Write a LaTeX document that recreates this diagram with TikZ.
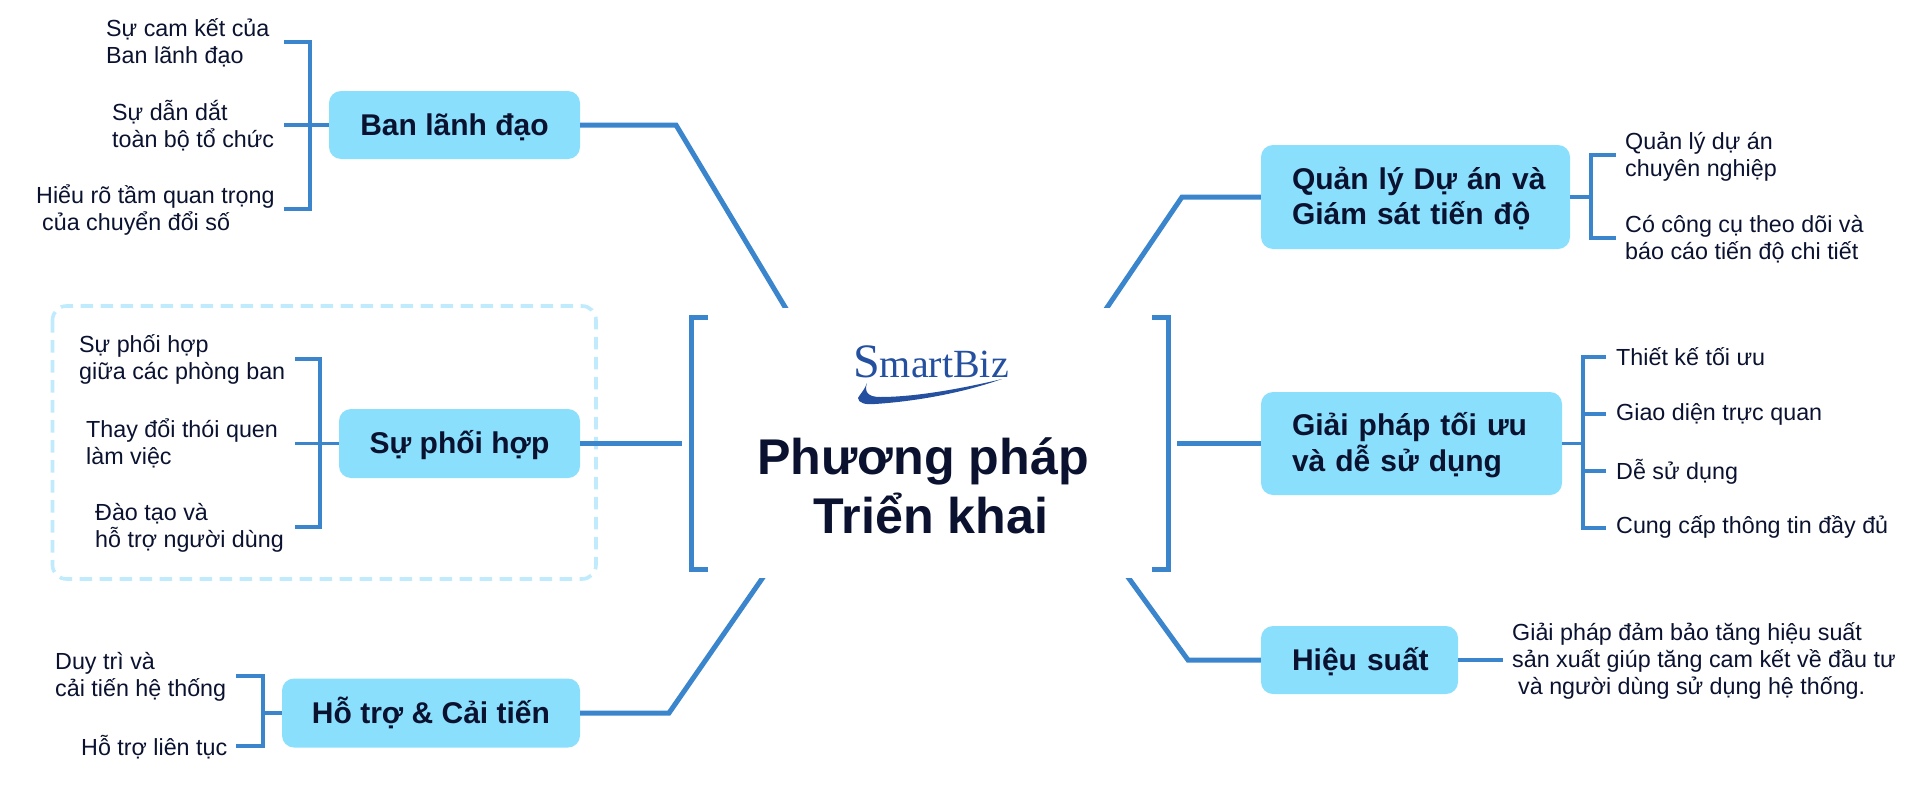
\documentclass[tikz,border=0pt]{standalone}
\usepackage{fontspec}
\setmainfont{Liberation Sans}
\newfontfamily\logofont{Liberation Serif}
\definecolor{boxblue}{HTML}{8ADFFC}
\definecolor{linkblue}{HTML}{3A85CC}
\definecolor{inkdark}{HTML}{0A1230}
\definecolor{dashblue}{HTML}{BFEBFD}
\definecolor{logoblue}{HTML}{24509F}
\newcommand{\topstrut}{\rule{0pt}{27pt}}
\newcommand{\botstrut}{\rule[-7pt]{0pt}{7pt}}
\newcommand{\ins}{\hspace*{31pt}}
\tikzset{
  topicbox/.style={fill=boxblue,rounded corners=12pt,inner sep=0pt,text=inkdark,
    font=\fontsize{30}{35.5}\selectfont\bfseries,align=left},
  leaf/.style={anchor=west,inner sep=0pt,yshift=-0.7pt,text=inkdark,align=left,
    font=\fontsize{23.3}{27}\selectfont},
  mainlink/.style={draw=linkblue,line width=5pt,line join=miter},
  sublink/.style={draw=linkblue,line width=3.8pt,line join=miter},
}
\begin{document}
\begin{tikzpicture}[x=1pt,y=-1pt]
\useasboundingbox (0,0) rectangle (1920,787);
% dashed frame
\draw[dashblue,line width=3.6pt,dash pattern=on 12.5pt off 7.5pt,rounded corners=14pt] (52.5,306) rectangle (596,579);
% topic boxes
\node[topicbox,minimum width=251pt,minimum height=68pt] (ban) at (454.5,125) {\topstrut Ban lãnh đạo\botstrut};
\node[topicbox,minimum width=241pt,minimum height=69pt] (phoi) at (459.5,443.5) {\topstrut Sự phối hợp\botstrut};
\node[topicbox,minimum width=298pt,minimum height=69pt] (hotro) at (431,713) {\topstrut Hỗ trợ \& Cải tiến\botstrut};
\node[topicbox,minimum width=309pt,minimum height=104pt,text width=309pt] (ql) at (1415.5,197) {\topstrut\ins Quản lý Dự án và\\\ins Giám sát tiến độ\botstrut};
\node[topicbox,minimum width=301pt,minimum height=103pt,text width=301pt] (gp) at (1411.5,443.5) {\topstrut\ins Giải pháp tối ưu\\\ins và dễ sử dụng\botstrut};
\node[topicbox,minimum width=197pt,minimum height=68pt,text width=197pt] (hs) at (1359.5,660) {\topstrut\ins Hiệu suất\botstrut};
% centre
\node[inner sep=0pt,text=inkdark,align=center,font=\fontsize{50.2}{59}\selectfont\bfseries] (title) at (923,486) {Phương pháp\\\hspace*{16pt}Triển khai};
\node[inner sep=0pt,anchor=base west,text=logoblue,font=\fontsize{40}{40}\selectfont\logofont] (logo) at (853,377) {{\fontsize{48}{48}\selectfont S}martBiz};
\fill[logoblue] (867,383) .. controls (864,391) and (860,394) .. (858,398) .. controls (858,403) and (866,405) .. (875,404) .. controls (920,401) and (965,392) .. (1002,379) .. controls (960,389) and (915,397) .. (880,397) .. controls (868,397) and (864,392) .. (867,383) -- cycle;
% bracket coordinates
\coordinate (lb1) at (708,317.5);
\coordinate (lb2) at (691.5,317.5);
\coordinate (lb3) at (691.5,569);
\coordinate (lb4) at (708,569);
\coordinate (rb1) at (1152,317.5);
\coordinate (rb2) at (1168.5,317.5);
\coordinate (rb3) at (1168.5,569);
\coordinate (rb4) at (1152,569);
\draw[mainlink] (lb1) -- (lb2) -- (lb3) -- (lb4);
\draw[mainlink] (rb1) -- (rb2) -- (rb3) -- (rb4);
% main links
\coordinate (a1) at (676,125); \coordinate (a2) at (788,312);
\coordinate (b1) at (682,443.5);
\coordinate (c1) at (669,713); \coordinate (c2) at (766,573);
\coordinate (d1) at (1182,197); \coordinate (d2) at (1104,312);
\coordinate (e1) at (1177,443.5);
\coordinate (f1) at (1188,660); \coordinate (f2) at (1125,573);
\begin{scope}
\clip (0,0) rectangle (1920,307);
\draw[mainlink] (ban.east) -- (a1) -- (a2);
\draw[mainlink] (ql.west) -- (d1) -- (d2);
\end{scope}
\draw[mainlink] (phoi.east) -- (b1);
\draw[mainlink] (gp.west) -- (e1);
\begin{scope}
\clip (0,578) rectangle (1920,787);
\draw[mainlink] (hotro.east) -- (c1) -- (c2);
\draw[mainlink] (hs.west) -- (f1) -- (f2);
\end{scope}
% leaves
\node[leaf] (l1) at (106,42) {Sự cam kết của\\Ban lãnh đạo};
\node[leaf] (l2) at (112,125) {Sự dẫn dắt\\toàn bộ tổ chức};
\node[leaf] (l3) at (36,209) {Hiểu rõ tầm quan trọng\\\hspace*{6pt}của chuyển đổi số};
\node[leaf] (l4) at (79,359) {Sự phối hợp\\giữa các phòng ban};
\node[leaf] (l5) at (86,443) {Thay đổi thói quen\\làm việc};
\node[leaf] (l6) at (95,527) {Đào tạo và\\hỗ trợ người dùng};
\node[leaf] (l7) at (55,676) {Duy trì và\\cải tiến hệ thống};
\node[leaf] (l8) at (81,746) {Hỗ trợ liên tục};
\node[leaf] (r1) at (1625,156) {Quản lý dự án\\chuyên nghiệp};
\node[leaf] (r2) at (1625,238) {Có công cụ theo dõi và\\báo cáo tiến độ chi tiết};
\node[leaf] (r3) at (1616,356) {Thiết kế tối ưu};
\node[leaf] (r4) at (1616,414) {Giao diện trực quan};
\node[leaf] (r5) at (1616,471) {Dễ sử dụng};
\node[leaf] (r6) at (1616,526) {Cung cấp thông tin đầy đủ};
\node[leaf] (r7) at (1512,660) {Giải pháp đảm bảo tăng hiệu suất\\sản xuất giúp tăng cam kết về đầu tư\\\hspace*{6pt}và người dùng sử dụng hệ thống.};
% sub brackets
\coordinate (p1) at (284,42); \coordinate (p2) at (310,42); \coordinate (p3) at (310,209); \coordinate (p4) at (284,209); \coordinate (p5) at (284,125);
\draw[sublink] (p1) -- (p2) -- (p3) -- (p4);
\draw[sublink] (p5) -- (ban.west);
\coordinate (q1) at (295,359); \coordinate (q2) at (320,359); \coordinate (q3) at (320,527); \coordinate (q4) at (295,527); \coordinate (q5) at (295,443.5);
\draw[sublink] (q1) -- (q2) -- (q3) -- (q4);
\draw[sublink] (q5) -- (phoi.west);
\coordinate (s1) at (236,676); \coordinate (s2) at (263,676); \coordinate (s3) at (263,746); \coordinate (s4) at (236,746); \coordinate (s5) at (263,713);
\draw[sublink] (s1) -- (s2) -- (s3) -- (s4);
\draw[sublink] (s5) -- (hotro.west);
\coordinate (t1) at (1616,155); \coordinate (t2) at (1591,155); \coordinate (t3) at (1591,238); \coordinate (t4) at (1616,238); \coordinate (t5) at (1591,197);
\draw[sublink] (t1) -- (t2) -- (t3) -- (t4);
\draw[sublink] (ql.east) -- (t5);
\coordinate (u1) at (1606,357); \coordinate (u2) at (1583,357); \coordinate (u3) at (1583,528); \coordinate (u4) at (1606,528); \coordinate (u5) at (1583,414); \coordinate (u6) at (1606,414); \coordinate (u7) at (1583,471); \coordinate (u8) at (1606,471); \coordinate (u9) at (1583,443.5);
\draw[sublink] (u1) -- (u2) -- (u3) -- (u4);
\draw[sublink] (u5) -- (u6);
\draw[sublink] (u7) -- (u8);
\draw[sublink] (gp.east) -- (u9);
\coordinate (v1) at (1503,660);
\draw[sublink] (hs.east) -- (v1);
\end{tikzpicture}
\end{document}
